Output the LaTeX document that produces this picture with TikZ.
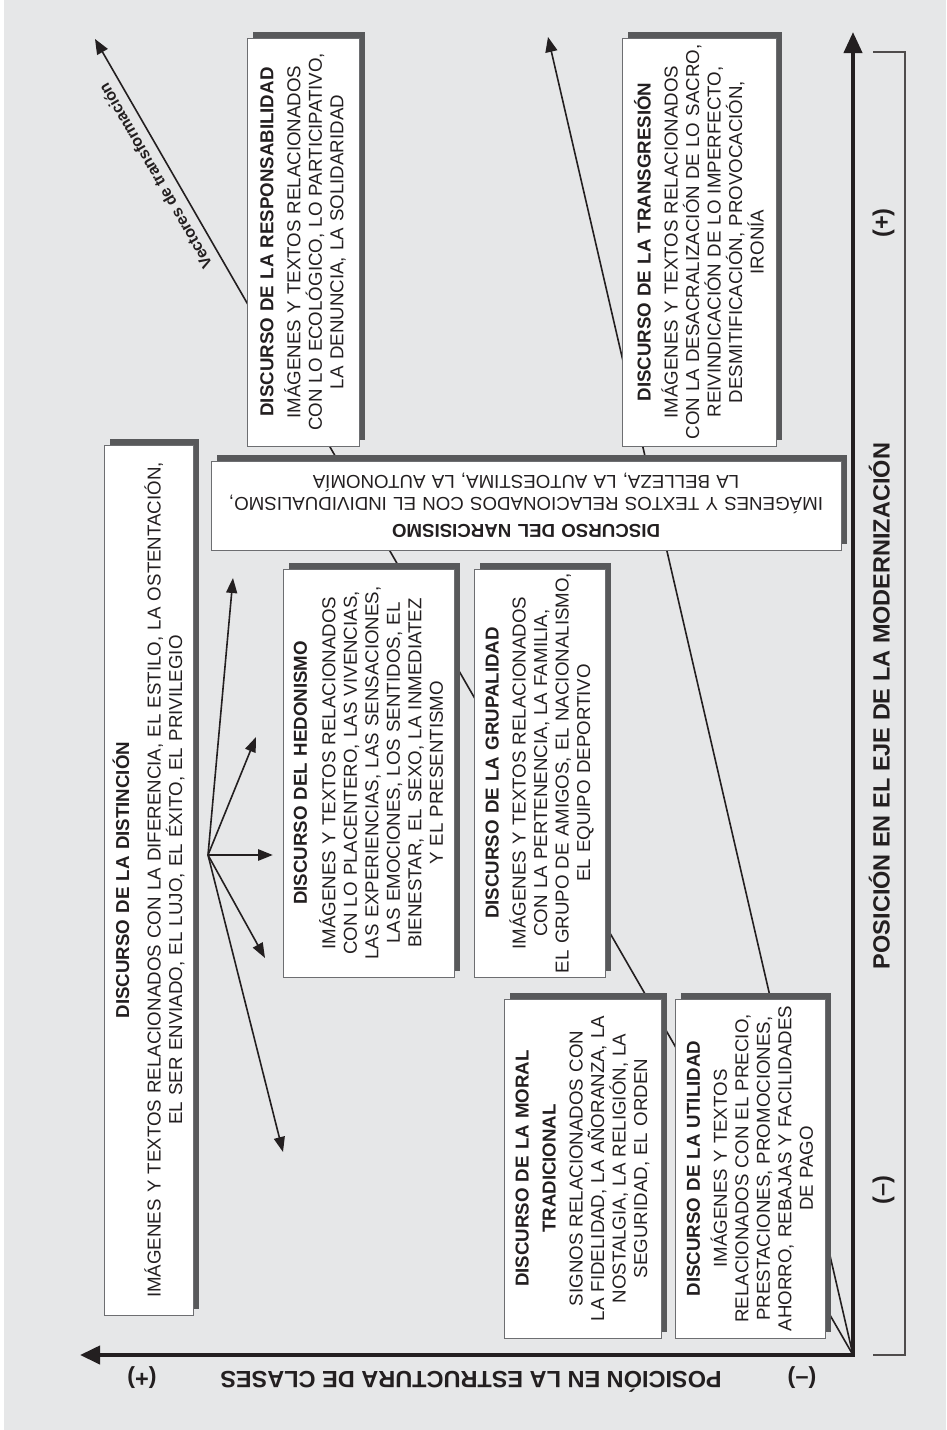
\documentclass[tikz,border=0pt]{standalone}
\usepackage{fontspec}
\setmainfont{Liberation Sans}
\usetikzlibrary{arrows.meta}
\definecolor{bgc}{HTML}{E6E7E8}
\definecolor{shc}{HTML}{58595B}
\definecolor{bdc}{HTML}{6D6E71}
\definecolor{ink}{HTML}{231F20}
\pgfdeclarelayer{bglayer}
\pgfdeclarelayer{linelayer}
\pgfdeclarelayer{shadowlayer}
\pgfsetlayers{bglayer,linelayer,shadowlayer,main}
\begin{document}
\begin{tikzpicture}[x=1pt,y=-1pt,
  box/.style={draw=bdc, line width=0.9pt, fill=white, inner sep=0pt, align=center, text=ink,
    font=\fontsize{18.7}{21.5}\selectfont},
  vec/.style={draw=ink, line width=1.6pt, -{Triangle[length=15pt,width=12pt]}},
  darr/.style={draw=ink, line width=1.6pt, -{Triangle[length=15pt,width=11pt]}},
  axlab/.style={font=\bfseries\fontsize{23.5}{23.5}\selectfont, text=ink, inner sep=0pt, text height=17pt, text depth=0pt},
]
\useasboundingbox (0,0) rectangle (946,1430);
\begin{pgfonlayer}{bglayer}
  \fill[white] (0,0) rectangle (946,1430);
  \fill[bgc] (4,0) rectangle (946,1430);
\end{pgfonlayer}

% boxes
\node[box, rotate=90, minimum width=408pt, minimum height=112pt, text width=402pt] (resp) at (303,242)
 {\textbf{DISCURSO DE LA RESPONSABILIDAD}\\[5.5pt] IMÁGENES Y TEXTOS RELACIONADOS\\ CON LO ECOLÓGICO, LO PARTICIPATIVO,\\ LA DENUNCIA, LA SOLIDARIDAD};
\node[box, rotate=90, minimum width=408pt, minimum height=154pt, text width=402pt] (transg) at (699,242)
 {\textbf{DISCURSO DE LA TRANSGRESIÓN}\\[5.5pt] IMÁGENES Y TEXTOS RELACIONADOS\\ CON LA DESACRALIZACIÓN DE LO SACRO,\\ REIVINDICACIÓN DE LO IMPERFECTO,\\ DESMITIFICACIÓN, PROVOCACIÓN,\\ IRONÍA};
\node[box, rotate=180, minimum width=630pt, minimum height=89pt, text width=624pt] (narc) at (526,505.5)
 {\textbf{DISCURSO DEL NARCISISMO}\\[5.5pt] IMÁGENES Y TEXTOS RELACIONADOS CON EL INDIVIDUALISMO,\\ LA BELLEZA, LA AUTOESTIMA, LA AUTONOMÍA};
\node[box, rotate=90, minimum width=870pt, minimum height=89pt, text width=864pt] (dist) at (148.5,880)
 {\textbf{DISCURSO DE LA DISTINCIÓN}\\[10pt] IMÁGENES Y TEXTOS RELACIONADOS CON LA DIFERENCIA, EL ESTILO, LA OSTENTACIÓN,\\ EL SER ENVIADO, EL LUJO, EL ÉXITO, EL PRIVILEGIO};
\node[box, rotate=90, minimum width=408pt, minimum height=171pt, text width=402pt] (hedon) at (368.5,773)
 {\textbf{DISCURSO DEL HEDONISMO}\\[7pt] IMÁGENES Y TEXTOS RELACIONADOS\\ CON LO PLACENTERO, LAS VIVENCIAS,\\ LAS EXPERIENCIAS, LAS SENSACIONES,\\ LAS EMOCIONES, LOS SENTIDOS, EL\\ BIENESTAR, EL SEXO, LA INMEDIATEZ\\ Y EL PRESENTISMO};
\node[box, rotate=90, minimum width=408pt, minimum height=131pt, text width=402pt] (grup) at (539.5,773)
 {\textbf{DISCURSO DE LA GRUPALIDAD}\\[5.5pt] IMÁGENES Y TEXTOS RELACIONADOS\\ CON LA PERTENENCIA, LA FAMILIA,\\ EL GRUPO DE AMIGOS, EL NACIONALISMO,\\ EL EQUIPO DEPORTIVO};
\node[box, rotate=90, minimum width=339pt, minimum height=157pt, text width=335pt] (moral) at (582.5,1168.5)
 {\textbf{DISCURSO DE LA MORAL}\\[5.5pt] \textbf{TRADICIONAL}\\[5.5pt] SIGNOS RELACIONADOS CON\\ LA FIDELIDAD, LA AÑORANZA, LA\\ NOSTALGIA, LA RELIGIÓN, LA\\ SEGURIDAD, EL ORDEN};
\node[box, rotate=90, minimum width=339pt, minimum height=150pt, text width=335pt] (util) at (750,1168.5)
 {\textbf{DISCURSO DE LA UTILIDAD}\\[5.5pt] IMÁGENES Y TEXTOS\\ RELACIONADOS CON EL PRECIO,\\ PRESTACIONES, PROMOCIONES,\\ AHORRO, REBAJAS Y FACILIDADES\\ DE PAGO};

% shadows
\begin{pgfonlayer}{shadowlayer}
  \foreach \n in {resp,transg,narc,dist,hedon,grup,moral,util}
    \fill[shc] ([shift={(6pt,6pt)}]\n.south west) rectangle ([shift={(6pt,6pt)}]\n.north east);
\end{pgfonlayer}

% coordinates
\coordinate (O) at (853,1355);
\coordinate (tipA) at (95,39);
\coordinate (tipB) at (548,37);
\coordinate (xend) at (80,1355);
\coordinate (yend) at (853,32);

% vectors of transformation (behind boxes)
\begin{pgfonlayer}{linelayer}
  \draw[vec] (O) -- (tipA) node[pos=0.902, sloped, allow upside down, above=6pt, text=ink,
     font=\bfseries\fontsize{16}{16}\selectfont] (veclab) {Vectores de transformación};
  \draw[vec] (O) -- (tipB);
\end{pgfonlayer}

% axes
\draw[ink, line width=4pt, line join=miter, {Triangle[length=20pt,width=18pt]}-{Triangle[length=21pt,width=18pt]}] (xend) -- (O) -- (yend);

% bracket
\coordinate (br1) at (873,52);
\coordinate (br2) at (905,52);
\coordinate (br3) at (905,1355);
\coordinate (br4) at (873,1355);
\draw[ink!80, line width=1.1pt] (br1) -- (br2) -- (br3) -- (br4);

% distincion star
\coordinate (C) at (208,855);
\coordinate (d1) at (233,578);
\coordinate (d2) at (256,737);
\coordinate (d3) at (273,855);
\coordinate (d4) at (265,958);
\coordinate (d5) at (283,1152);
\draw[darr] (C) -- (d1);
\draw[darr] (C) -- (d2);
\draw[darr, line width=2.8pt] (C) -- (d3);
\draw[darr] (C) -- (d4);
\draw[darr] (C) -- (d5);

% axis labels
\node[axlab, rotate=90] (modlab) at (881,706) {POSICIÓN EN EL EJE DE LA MODERNIZACIÓN};
\node[axlab, rotate=90] (modplus) at (881,223) {(+)};
\node[axlab, rotate=90] (modminus) at (881,1190) {(–)};
\node[axlab, rotate=180] (claslab) at (471,1380) {POSICIÓN EN LA ESTRUCTURA DE CLASES};
\node[axlab, rotate=180] (clasplus) at (142,1380) {(+)};
\node[axlab, rotate=180] (clasminus) at (802,1380) {(–)};
\end{tikzpicture}
\end{document}
